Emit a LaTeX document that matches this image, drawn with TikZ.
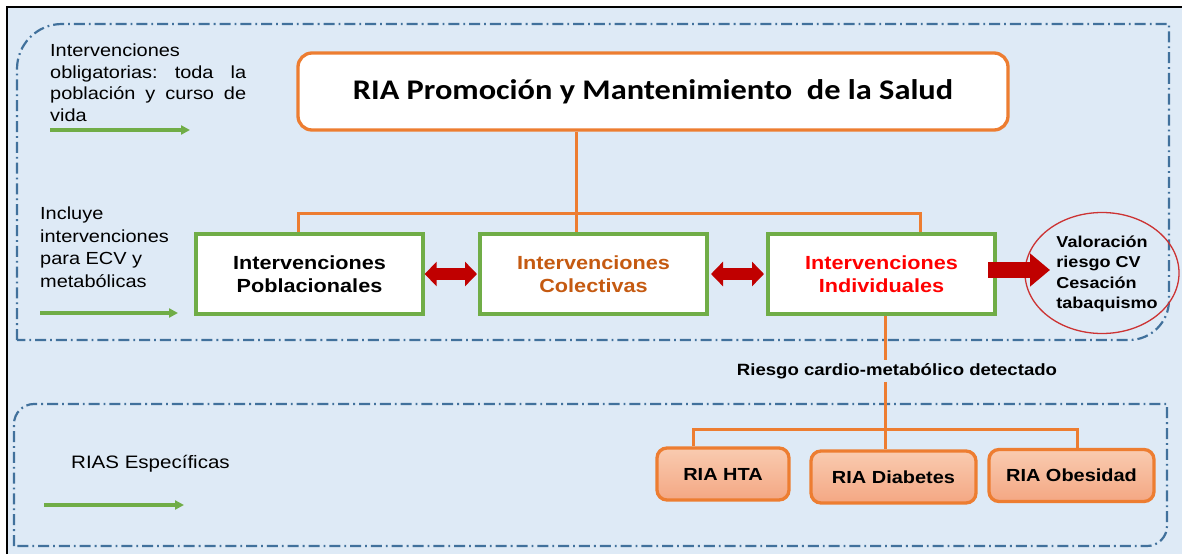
\documentclass[tikz,border=0pt]{standalone}
\usepackage{fontspec}
\setmainfont{Liberation Sans}[FakeStretch=1.14]
\newfontfamily\titlefont{Carlito}[FakeStretch=1.14]
\usetikzlibrary{shapes.geometric,arrows.meta}
\definecolor{bgblue}{HTML}{DEEAF6}
\definecolor{dashblue}{HTML}{41719C}
\definecolor{orangeL}{HTML}{ED7D31}
\definecolor{greenB}{HTML}{70AD47}
\definecolor{darkred}{HTML}{C00000}
\definecolor{circred}{HTML}{CC3333}
\definecolor{colText}{HTML}{C55A11}
\definecolor{salTop}{HTML}{F9CBB0}
\definecolor{salBot}{HTML}{F4A783}
\frenchspacing
\begin{document}
\begin{tikzpicture}[x=1pt,y=-1pt,
  region/.style={draw=dashblue, line width=2.2pt, dash pattern=on 11pt off 4pt on 1.8pt off 4pt},
  greenbox/.style={draw=greenB, line width=3.3pt, fill=white, minimum width=227pt, minimum height=80pt, inner sep=0pt, font=\bfseries\fontsize{19}{23}\selectfont, align=center},
  titlebox/.style={draw=orangeL, line width=3.3pt, fill=white, rounded corners=14pt, minimum width=710pt, minimum height=77pt, inner sep=0pt, font=\titlefont\bfseries\fontsize{28.4}{34}\selectfont},
  riabox/.style={draw=orangeL, line width=3.3pt, top color=salTop, bottom color=salBot, rounded corners=10pt, minimum height=52pt, inner sep=0pt, font=\bfseries\fontsize{17.5}{20}\selectfont},
  conn/.style={draw=orangeL, line width=3pt},
  garrow/.style={draw=greenB, line width=3.2pt, -{Triangle[length=9pt,width=9pt]}},
  sidetext/.style={anchor=north west, inner sep=0pt, align=left, font=\fontsize{17.5}{21.5}\selectfont},
  redlink/.style={draw=darkred, line width=12pt, {Triangle[length=12pt,width=24pt]}-{Triangle[length=12pt,width=24pt]}},
  redarrow/.style={draw=darkred, line width=16pt, -{Triangle[length=20pt,width=32pt]}}
]
\useasboundingbox (0,0) rectangle (1182,554);
% background frame
\fill[bgblue] (7,7) rectangle (1182,554);
\draw[black, line width=2.5pt] (7,554) -- (7,7) -- (1182,7);
% dashed regions
\draw[region] (17,340) -- (17,69) arc[start angle=180, end angle=270, radius=45] -- (1169,24) -- (1169,300) arc[start angle=0, end angle=90, radius=40] -- cycle;
\draw[region] (14,546) -- (14,424) arc[start angle=180, end angle=270, radius=20] -- (1167,404) -- (1167,526) arc[start angle=0, end angle=90, radius=20] -- cycle;

% side texts
\node[sidetext] (t1) at (50,44) {Intervenciones\\\makebox[196pt][s]{obligatorias: toda la}\\\makebox[196pt][s]{población y curso de}\\vida};
\node[sidetext, font=\fontsize{17.5}{22.5}\selectfont] (t2) at (40,207) {Incluye\\intervenciones\\para ECV y\\metabólicas};
\node[anchor=base west, inner sep=0pt, font=\fontsize{18}{22}\selectfont] (t3) at (71,468) {RIAS Específicas};

% green arrows
\coordinate (g1a) at (50,130); \coordinate (g1b) at (190,130);
\coordinate (g2a) at (40,313); \coordinate (g2b) at (178,313);
\coordinate (g3a) at (44,505); \coordinate (g3b) at (184,505);
\draw[garrow] (g1a) -- (g1b);
\draw[garrow] (g2a) -- (g2b);
\draw[garrow] (g3a) -- (g3b);

% main nodes
\node[titlebox] (title) at (653,91.5) {RIA Promoción y Mantenimiento\ \ de la Salud};
\node[greenbox] (b1) at (309.5,274) {Intervenciones\\Poblacionales};
\node[greenbox, text=colText] (b2) at (593.5,274) {Intervenciones\\Colectivas};
\node[greenbox, text=red] (b3) at (881.5,274) {Intervenciones\\Individuales};

\node[ellipse, draw=circred, line width=1.3pt, minimum width=154pt, minimum height=121pt, inner sep=0pt] (circ) at (1102,273) {};
\node[align=left, inner sep=0pt, font=\bfseries\fontsize{15.8}{20.5}\selectfont] (circt) at (1107,274) {Valoración\\riesgo CV\\Cesación\\tabaquismo};

\node[inner sep=3pt, font=\bfseries\fontsize{16.3}{20}\selectfont] (risk) at (897,371) {Riesgo cardio-metabólico detectado};

\node[riabox, minimum width=132pt] (hta) at (723,474) {RIA HTA};
\node[riabox, minimum width=165pt] (diab) at (893.5,477) {RIA Diabetes};
\node[riabox, minimum width=165pt] (obes) at (1071.5,475.5) {RIA Obesidad};

% red arrows
\coordinate (ra1) at (423,274);
\coordinate (ra2) at (477,274);
\coordinate (rb1) at (711,274);
\coordinate (rb2) at (764,274);
\draw[redlink] (ra1 -| b1.east) -- (ra2);
\draw[redlink] (rb1) -- (rb2);
\coordinate (sa0) at (988,270);
\coordinate (satip) at (1050,270);
\draw[redarrow] (sa0) -- (satip);

% connectors
\coordinate (j) at (576,213);
\coordinate (jl) at (298,213);
\coordinate (jr) at (920,213);
\draw[conn] (title.south -| j) -- (j);
\draw[conn] (jl |- b1.north) -- (jl) -- (jr) -- (jr |- b3.north);
\draw[conn] (j) -- (j |- b2.north);

\coordinate (k) at (885,429);
\coordinate (kl) at (693,429);
\coordinate (kr) at (1077,429);
\draw[conn] (b3.south -| k) -- (risk.north -| k);
\draw[conn] (risk.south -| k) -- (k |- diab.north);
\draw[conn] (kl |- hta.north) -- (kl) -- (kr) -- (kr |- obes.north);
\end{tikzpicture}
\end{document}
